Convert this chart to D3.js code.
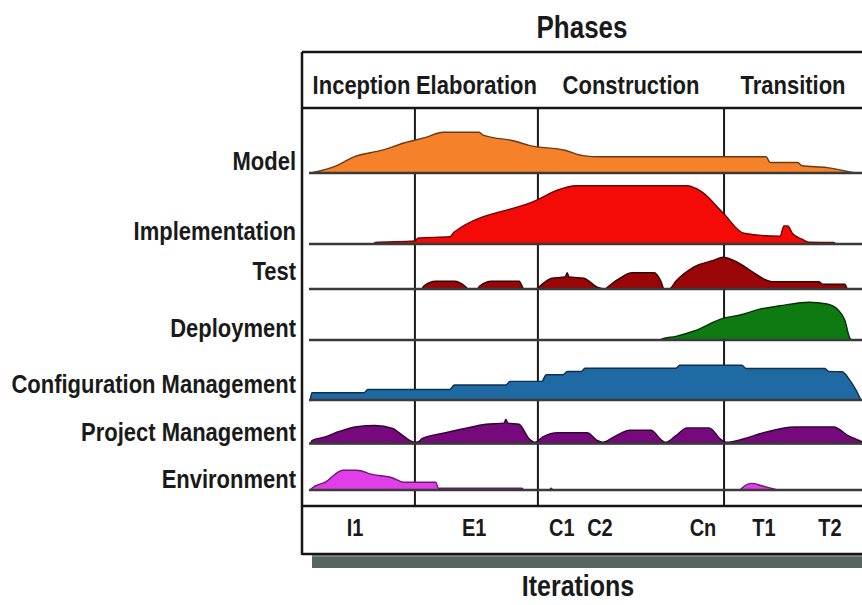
<!DOCTYPE html>
<html><head><meta charset="utf-8">
<script src="https://cdn.jsdelivr.net/npm/d3@7"></script>
<style>
body{margin:0;background:#fff;}
svg{display:block;font-family:"Liberation Sans",Arial,Helvetica,sans-serif;font-weight:bold;}
</style>
</head><body><svg id="c" width="862" height="605"></svg>
<script>
// ---------------- DATA ----------------
const phases = ["Inception", "Elaboration", "Construction", "Transition"];
const phaseEnds = [19.3, 41.5, 75.1, 100];           // time (0-100) where each phase ends
const iterations = ["I1", "E1", "C1", "C2", "Cn", "T1", "T2"];
const iterationTimes = [8.5, 30.0, 45.8, 52.7, 71.3, 82.3, 94.2];
const disciplines = ["Model", "Implementation", "Test", "Deployment",
  "Configuration Management", "Project Management", "Environment"];

// effort curves: time (0-100) and effort level (0-10)
const modelT = [0.5, 5.1, 8.3, 13.4, 17.3, 21.1, 24.4, 30.9, 31.6, 37.4, 39.9, 46.4, 49.6, 52.9, 82.7, 83.4, 88.4, 89.2, 93.7, 98.7];
const modelV = [0, 1.2, 2.7, 3.8, 5.0, 5.9, 6.8, 6.8, 6.3, 5.3, 4.6, 3.8, 2.9, 2.7, 2.7, 1.75, 1.75, 1.2, 0.9, 0];

const implT = [11.9, 12.1, 19.3, 19.9, 25.6, 26.4, 41.3, 45.1, 48.4, 68.4, 70.9, 74.9, 78.7, 85.2, 85.9, 86.6, 87.5, 89.2, 90.4, 94.9, 95.3];
const implV = [0, 0.25, 0.5, 1.0, 1.2, 2.0, 7.3, 9.0, 9.7, 9.7, 8.8, 5.2, 1.8, 1.3, 3.0, 3.0, 1.7, 0.8, 0.3, 0.25, 0];

const testT = [20.6, 20.9, 23.1, 26.4, 28.3, 28.9, 30.5, 31.0, 33.2, 38.1, 39.0, 41.3, 41.9, 44.0, 46.4, 46.8, 47.1, 49.8, 52.2, 53.6, 54.3, 56.3, 58.5, 62.5, 63.7, 64.3, 65.2, 66.4, 69.7, 73.3, 74.9, 77.4, 80.0, 82.7, 83.9, 92.2, 92.9, 96.9, 97.3];
const testV = [0, 0.5, 1.3, 1.3, 0.5, 0, 0, 0.5, 1.3, 1.3, 0, 0, 0.5, 1.8, 2.0, 2.7, 2.0, 1.8, 0.3, 0, 0.5, 1.8, 2.7, 2.7, 1.3, 0, 0, 1.3, 3.7, 4.8, 5.3, 4.5, 3.0, 1.5, 1.2, 1.2, 0.8, 0.8, 0];

const deployT = [63.7, 63.9, 66.4, 69.7, 74.9, 78.2, 81.4, 85.2, 90.4, 93.7, 95.7, 96.9, 97.8, 98.2];
const deployV = [0, 0.2, 0.6, 1.5, 3.6, 4.2, 5.1, 5.7, 6.3, 6.0, 5.0, 3.3, 0.3, 0];

const configT = [0.4, 0.7, 10.1, 10.8, 25.6, 26.4, 35.7, 36.5, 42.2, 43.0, 46.0, 46.8, 49.3, 50.0, 66.4, 67.1, 78.3, 79.1, 93.3, 94.0, 96.4, 97.8, 98.9, 99.8];
const configV = [0, 1.2, 1.2, 1.75, 1.75, 2.5, 2.5, 3.1, 3.1, 4.2, 4.2, 4.75, 4.75, 5.3, 5.3, 5.8, 5.8, 5.25, 5.25, 4.75, 4.7, 3.3, 1.7, 0];

const projT = [0.5, 0.7, 3.1, 5.6, 8.8, 12.1, 15.3, 16.6, 19.3, 19.9, 20.6, 24.4, 28.3, 32.1, 35.4, 35.7, 36.1, 38.1, 39.9, 41.0, 42.4, 45.1, 50.4, 52.2, 53.2, 55.4, 58.1, 61.9, 63.9, 64.6, 66.4, 68.4, 72.4, 74.5, 75.6, 78.7, 81.9, 87.9, 94.9, 97.5, 99.5, 100];
const projV = [0, 0.5, 1.1, 2.0, 2.8, 3.0, 2.5, 1.7, 0.2, 0.3, 0.8, 1.7, 2.5, 3.2, 3.4, 4.0, 3.4, 3.2, 0.8, 0.2, 1.1, 1.8, 1.8, 0.5, 0.2, 1.2, 2.2, 2.2, 0.5, 0.2, 1.3, 2.6, 2.6, 0.7, 0.2, 0.8, 1.7, 2.75, 2.75, 1.3, 0.5, 0.3];

const envT = [0.5, 0.7, 3.1, 6.3, 8.8, 11.6, 15.3, 17.3, 23.1, 23.5, 38.6, 39.0, 43.5, 43.9, 44.2, 78.0, 78.2, 80.1, 81.6, 83.9, 84.7];
const envV = [0, 0.3, 1.3, 3.3, 3.3, 2.6, 2.0, 1.3, 1.3, 0.3, 0.3, 0, 0, 0.3, 0, 0, 0.2, 1.1, 0.8, 0.2, 0];

const seriesT = [modelT, implT, testT, deployT, configT, projT, envT];
const seriesV = [modelV, implV, testV, deployV, configV, projV, envV];

// ---------------- STYLE / LAYOUT ----------------
const fills   = ["#f5822a", "#f40a06", "#9a0608", "#0d7a12", "#1f6aa3", "#760a7c", "#e03ee8"];
const strokes = ["#6a3a14", "#6a0804", "#3a0000", "#083008", "#0f3050", "#300438", "#6a1a70"];
const rowBase = [173, 244, 289, 340, 400, 443.5, 490];
const labelY  = [160, 230, 270, 327, 383, 431, 478];

const svg = d3.select("#c");
const W = 862;
const frameL = 302, frameT = 52, headB = 108, iterT = 506, frameB = 554;

const x = d3.scaleLinear().domain([0, 100]).range([308, 862]);
const h = d3.scaleLinear().domain([0, 10]).range([0, 60]);

// shadow
svg.append("rect").attr("x", 312).attr("y", frameB).attr("width", W - 312).attr("height", 14).attr("fill", "#56655d");
svg.append("rect").attr("x", 312).attr("y", frameB).attr("width", W - 312).attr("height", 3).attr("fill", "#7d8a83");

// frame background
svg.append("rect").attr("x", frameL).attr("y", frameT).attr("width", W - frameL).attr("height", frameB - frameT).attr("fill", "#fff");

// phase dividers
const phaseStarts = [0].concat(phaseEnds.slice(0, -1));
svg.selectAll("line.div").data(phaseEnds.slice(0, -1)).join("line")
  .attr("class", "div")
  .attr("x1", d => x(d)).attr("x2", d => x(d))
  .attr("y1", headB).attr("y2", iterT)
  .attr("stroke", "#1a1a1a").attr("stroke-width", 2);

// areas
const area = d3.area().curve(d3.curveMonotoneX);
disciplines.forEach((name, i) => {
  const pts = seriesT[i].map((t, k) => [t, seriesV[i][k]]);
  const base = rowBase[i];
  area.x(d => x(d[0])).y0(base).y1(d => base - h(d[1]));
  svg.append("path").datum(pts).attr("d", area)
    .attr("fill", fills[i]).attr("stroke", strokes[i]).attr("stroke-width", 1.4)
    .attr("stroke-linejoin", "round");
  // baseline
  svg.append("line").attr("x1", 309).attr("x2", W).attr("y1", base).attr("y2", base)
    .attr("stroke", "#3a3a3a").attr("stroke-width", 2.5);
  // row label
  svg.append("text").attr("transform", `translate(296,${labelY[i]}) scale(1,1.2)`)
    .attr("dy", "0.36em").attr("text-anchor", "end")
    .attr("font-size", 22).attr("fill", "#1a1a1a").text(name);
});

// frame lines
const frame = svg.append("g").attr("stroke", "#151515").attr("stroke-width", 2.5);
frame.append("line").attr("x1", frameL).attr("x2", frameL).attr("y1", frameT).attr("y2", frameB + 1);
[frameT, headB, iterT, frameB].forEach(y => {
  frame.append("line").attr("x1", frameL).attr("x2", W).attr("y1", y).attr("y2", y);
});

// phase labels
svg.selectAll("text.phase").data(phases).join("text")
  .attr("class", "phase")
  .attr("transform", (d, i) => `translate(${x((phaseStarts[i] + phaseEnds[i]) / 2)},84) scale(1,1.2)`)
  .attr("dy", "0.36em").attr("text-anchor", "middle")
  .attr("font-size", 22).attr("fill", "#1a1a1a").text(d => d);

// iteration labels
svg.selectAll("text.iter").data(iterations).join("text")
  .attr("class", "iter")
  .attr("transform", (d, i) => `translate(${x(iterationTimes[i])},527) scale(1,1.2)`)
  .attr("dy", "0.36em").attr("text-anchor", "middle")
  .attr("font-size", 20).attr("fill", "#1a1a1a").text(d => d);

// titles
svg.append("text").attr("transform", "translate(582,27) scale(1,1.2)")
  .attr("dy", "0.36em").attr("text-anchor", "middle").attr("font-size", 26).attr("fill", "#1a1a1a").text("Phases");
svg.append("text").attr("transform", "translate(578,586) scale(1,1.15)")
  .attr("dy", "0.34em").attr("text-anchor", "middle").attr("font-size", 25).attr("fill", "#1a1a1a").text("Iterations");
</script>
</body></html>
